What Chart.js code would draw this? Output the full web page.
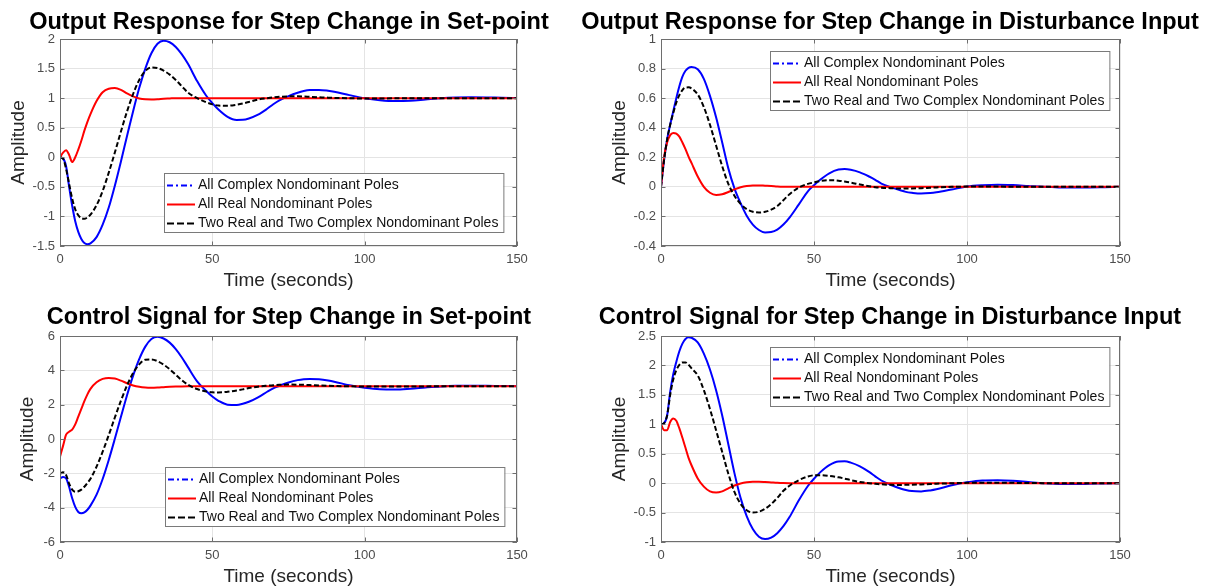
<!DOCTYPE html>
<html>
<head>
<meta charset="utf-8">
<script src="https://cdn.jsdelivr.net/npm/chart.js@4.4.1/dist/chart.umd.min.js"></script>
<style>
  html, body { margin: 0; padding: 0; background: #fff; }
  body { width: 1209px; height: 588px; position: relative; overflow: hidden; }
  canvas { position: absolute; }
</style>
</head>
<body>
<canvas id="c1" width="578" height="294" style="left:0;top:0"></canvas>
<canvas id="c2" width="620" height="294" style="left:580px;top:0"></canvas>
<canvas id="c3" width="578" height="294" style="left:0;top:294px"></canvas>
<canvas id="c4" width="620" height="294" style="left:580px;top:294px"></canvas>
<script>
// time axis shared by every curve (seconds)
var timeSec = [0,1,2,3,4,5,6,7,8,9,10,
  12,14,16,18,20,22,24,26,28,30,32,34,36,38,40,42,
  45,48,50,52,55,58,60,62,65,68,70,72,75,78,80,82,85,88,90,
  95,100,105,110,115,120,125,130,135,140,145,150];

var seriesNames = ['All Complex Nondominant Poles', 'All Real Nondominant Poles', 'Two Real and Two Complex Nondominant Poles'];

// output response, set-point step
var spOutComplex = [0,-0.02,-0.15,-0.5,-0.82,-1.08,-1.26,-1.38,-1.45,-1.47,-1.456,
  -1.35,-1.14,-0.85,-0.48,-0.07,0.36,0.78,1.17,1.5,1.76,1.92,1.97,1.945,1.866,1.74,1.58,
  1.288,1.04,0.917,0.808,0.685,0.632,0.634,0.656,0.72,0.82,0.897,0.963,1.035,1.092,1.12,1.136,1.139,1.125,1.109,
  1.051,0.998,0.965,0.95,0.956,0.977,0.998,1.01,1.015,1.012,1.006,1.002];
var spOutReal = [0,0.08,0.12,0.04,-0.08,0,0.13,0.28,0.45,0.6,0.73,
  0.95,1.1,1.16,1.17,1.14,1.08,1.03,0.995,0.98,0.978,0.982,0.99,0.995,1,1,1,
  1,1,1,1,1,1,1,1,1,1,1,1,1,1,1,1,1,1,1,
  1,1,1,1,1,1,1,1,1,1,1,1];
var spOutMixed = [0,-0.02,-0.2,-0.45,-0.7,-0.88,-0.98,-1.03,-1.04,-1.016,-0.97,
  -0.81,-0.57,-0.26,0.08,0.436,0.775,1.07,1.307,1.46,1.52,1.508,1.466,1.398,1.307,1.2,1.094,
  1.0,0.93,0.895,0.875,0.872,0.89,0.91,0.936,0.977,0.999,1.012,1.022,1.03,1.03,1.027,1.022,1.015,1.008,1.004,
  0.998,0.995,0.995,0.997,1,1,1,1,1,1,1,1];

// output response, disturbance step
var dOutComplex = [0,0.18,0.32,0.42,0.51,0.6,0.68,0.745,0.785,0.805,0.81,
  0.795,0.73,0.615,0.47,0.3,0.125,-0.01,-0.11,-0.195,-0.255,-0.292,-0.309,-0.306,-0.289,-0.255,-0.208,
  -0.12,-0.03,0.011,0.048,0.092,0.117,0.12,0.115,0.098,0.07,0.048,0.022,-0.002,-0.022,-0.034,-0.04,-0.045,-0.042,-0.037,
  -0.018,0.002,0.011,0.015,0.012,0.006,0,-0.004,-0.005,-0.004,-0.002,0];
var dOutReal = [0,0.2,0.3,0.35,0.365,0.36,0.34,0.3,0.255,0.205,0.16,
  0.07,0,-0.04,-0.055,-0.05,-0.035,-0.017,-0.003,0.006,0.01,0.01,0.008,0.006,0.003,0.001,0,
  0,0,0,0,0,0,0,0,0,0,0,0,0,0,0,0,0,0,0,
  0,0,0,0,0,0,0,0,0,0,0,0];
var dOutMixed = [0,0.18,0.32,0.42,0.5,0.57,0.62,0.655,0.672,0.673,0.665,
  0.625,0.54,0.42,0.28,0.14,0.02,-0.06,-0.115,-0.15,-0.168,-0.173,-0.169,-0.154,-0.13,-0.09,-0.05,
  -0.005,0.02,0.03,0.039,0.045,0.042,0.036,0.029,0.016,0.004,-0.002,-0.006,-0.009,-0.011,-0.011,-0.0105,-0.009,-0.006,-0.004,
  0,0.002,0.003,0.002,0.001,0,0,0,0,0,0,0];

// control signal, set-point step
var spCtrlComplex = [-2.3,-2.22,-2.3,-2.8,-3.45,-3.95,-4.25,-4.33,-4.28,-4.12,-3.88,
  -3.24,-2.33,-1.22,0.01,1.29,2.55,3.69,4.65,5.38,5.82,5.95,5.854,5.614,5.236,4.75,4.186,
  3.36,2.8,2.476,2.226,2.001,1.984,2.053,2.168,2.431,2.752,2.954,3.099,3.29,3.429,3.484,3.5,3.476,3.406,3.34,
  3.13,2.986,2.896,2.883,2.93,3.0,3.06,3.095,3.105,3.1,3.088,3.078];
var spCtrlReal = [-1.03,-0.4,0.25,0.42,0.55,0.85,1.3,1.75,2.2,2.6,2.92,
  3.3,3.5,3.56,3.52,3.4,3.25,3.12,3.04,3.0,2.99,3.0,3.02,3.04,3.055,3.065,3.07,
  3.07,3.07,3.07,3.07,3.07,3.07,3.07,3.07,3.07,3.07,3.07,3.07,3.07,3.07,3.07,3.07,3.07,3.07,3.07,
  3.07,3.07,3.07,3.07,3.07,3.07,3.07,3.07,3.07,3.07,3.07,3.07];
var spCtrlMixed = [-2.05,-1.93,-2.1,-2.6,-2.95,-3.07,-3.04,-2.95,-2.78,-2.56,-2.32,
  -1.61,-0.74,0.23,1.25,2.23,3.12,3.84,4.35,4.62,4.637,4.534,4.337,4.063,3.74,3.42,3.16,
  2.91,2.77,2.72,2.71,2.75,2.825,2.89,2.965,3.05,3.105,3.135,3.155,3.17,3.165,3.155,3.14,3.12,3.1,3.09,
  3.07,3.06,3.055,3.055,3.06,3.065,3.07,3.072,3.073,3.072,3.071,3.07];

// control signal, disturbance step
var dCtrlComplex = [1,1.02,1.15,1.55,1.85,2.06,2.24,2.37,2.45,2.48,2.47,
  2.39,2.2,1.93,1.58,1.15,0.66,0.17,-0.25,-0.56,-0.78,-0.91,-0.95,-0.925,-0.85,-0.732,-0.577,
  -0.296,-0.049,0.075,0.183,0.306,0.368,0.37,0.348,0.285,0.191,0.116,0.045,-0.027,-0.087,-0.116,-0.134,-0.14,-0.124,-0.105,
  -0.037,0.014,0.045,0.049,0.04,0.018,-0.003,-0.013,-0.016,-0.011,-0.005,0];
var dCtrlReal = [1,0.9,0.9,1.04,1.1,1.06,0.93,0.77,0.6,0.43,0.3,
  0.08,-0.06,-0.14,-0.16,-0.14,-0.09,-0.04,-0.005,0.015,0.022,0.022,0.018,0.012,0.006,0.002,0,
  0,0,0,0,0,0,0,0,0,0,0,0,0,0,0,0,0,0,0,
  0,0,0,0,0,0,0,0,0,0,0,0];
var dCtrlMixed = [1,1.02,1.15,1.5,1.76,1.92,2.01,2.05,2.05,2.01,1.95,
  1.83,1.58,1.26,0.9,0.53,0.16,-0.15,-0.35,-0.46,-0.5,-0.486,-0.437,-0.357,-0.251,-0.13,-0.044,
  0.05,0.114,0.134,0.136,0.123,0.099,0.077,0.052,0.02,0,-0.011,-0.02,-0.028,-0.03,-0.029,-0.026,-0.021,-0.015,-0.01,
  -0.002,0.005,0.008,0.008,0.005,0.002,0,-0.002,-0.002,-0.001,0,0];

// y axis [min, max, step] per panel
var spOutRange = [-1.5, 2, 0.5];
var dOutRange = [-0.4, 1, 0.2];
var spCtrlRange = [-6, 6, 2];
var dCtrlRange = [-1, 2.5, 0.5];
var xRange = [0, 150, 50];

Chart.defaults.font.family = '"Liberation Sans", Arial, Helvetica, sans-serif';
var gridColor = '#e4e4e4';
var edgeColor = '#6e6e6e';

function pts(vals) {
  return timeSec.map(function(t, i) { return {x: t, y: vals[i]}; });
}

// matlab style box round the axes with small inward ticks
var boxTicks = {
  id: 'boxTicks',
  afterDatasetsDraw: function(chart) {
    var a = chart.chartArea, ctx = chart.ctx, len = 4.5;
    var sx = chart.scales.x, sy = chart.scales.y;
    ctx.save();
    ctx.strokeStyle = edgeColor;
    ctx.lineWidth = 1;
    ctx.strokeRect(a.left + 0.5, a.top + 0.5, a.right - a.left - 1, a.bottom - a.top - 1);
    ctx.beginPath();
    sx.ticks.forEach(function(t) {
      var px = Math.round(sx.getPixelForValue(t.value)) + 0.5;
      ctx.moveTo(px, a.bottom); ctx.lineTo(px, a.bottom - len);
      ctx.moveTo(px, a.top); ctx.lineTo(px, a.top + len);
    });
    sy.ticks.forEach(function(t) {
      var py = Math.round(sy.getPixelForValue(t.value)) + 0.5;
      ctx.moveTo(a.left, py); ctx.lineTo(a.left + len, py);
      ctx.moveTo(a.right, py); ctx.lineTo(a.right - len, py);
    });
    ctx.stroke();
    ctx.restore();
  }
};

// legend box drawn inside the plot area
var insetLegend = {
  id: 'insetLegend',
  afterDraw: function(chart, args, opts) {
    var a = chart.chartArea, ctx = chart.ctx, sets = chart.data.datasets;
    ctx.save();
    ctx.font = '14px "Liberation Sans", Arial, sans-serif';
    var tw = 0;
    sets.forEach(function(d) { tw = Math.max(tw, ctx.measureText(d.label).width); });
    var w = 34 + tw + 5, h = 59;
    var x = Math.round(a.right - opts.right - w);
    var y = opts.top != null ? a.top + opts.top : a.bottom - opts.bottom - h;
    ctx.fillStyle = '#fff';
    ctx.fillRect(x, y, w, h);
    ctx.strokeStyle = '#7a7a7a';
    ctx.lineWidth = 1;
    ctx.strokeRect(x + 0.5, y + 0.5, w, h);
    sets.forEach(function(d, i) {
      var cy = y + 12.5 + i * 19;
      ctx.strokeStyle = d.borderColor;
      ctx.lineWidth = 2;
      ctx.setLineDash(d.legendDash || []);
      ctx.beginPath();
      ctx.moveTo(x + 3, cy);
      ctx.lineTo(x + 31, cy);
      ctx.stroke();
      ctx.setLineDash([]);
      ctx.fillStyle = '#111';
      ctx.textBaseline = 'middle';
      ctx.fillText(d.label, x + 34, cy);
    });
    ctx.restore();
  }
};

function panel(id, cfg) {
  var common = {borderWidth: 2, pointRadius: 0, fill: false, cubicInterpolationMode: 'monotone'};
  return new Chart(document.getElementById(id), {
    type: 'line',
    data: {
      datasets: [
        Object.assign({label: seriesNames[0], data: pts(cfg.lines[0]), borderColor: '#0000ff', legendDash: [6, 3, 2, 3], order: 3}, common),
        Object.assign({label: seriesNames[1], data: pts(cfg.lines[1]), borderColor: '#ff0000', order: 2}, common),
        Object.assign({label: seriesNames[2], data: pts(cfg.lines[2]), borderColor: '#000000', borderDash: [5, 2.5], legendDash: [7, 3], order: 1}, common)
      ]
    },
    options: {
      responsive: false,
      animation: false,
      layout: {padding: 0},
      plugins: {
        legend: {display: false},
        tooltip: {enabled: false},
        title: {
          display: true,
          text: cfg.title,
          color: '#000',
          font: {size: 23.5, weight: 'bold'},
          padding: cfg.titlePad
        },
        insetLegend: cfg.legend
      },
      scales: {
        x: {
          type: 'linear',
          min: xRange[0], max: xRange[1],
          afterFit: function(s) { s.height = cfg.xh; },
          ticks: {stepSize: xRange[2], padding: 5.2, color: '#4d4d4d', font: {size: 13}, maxRotation: 0},
          grid: {color: gridColor, drawTicks: false},
          border: {display: false},
          title: {display: true, text: 'Time (seconds)', color: '#262626', font: {size: 19}, padding: {top: 0, bottom: cfg.xTitlePad}}
        },
        y: {
          min: cfg.range[0], max: cfg.range[1],
          afterFit: function(s) { s.width = cfg.yw; },
          ticks: {
            stepSize: cfg.range[2], padding: 5, color: '#4d4d4d', font: {size: 13},
            callback: function(v) { return String(Math.round(v * 100) / 100); }
          },
          grid: {color: gridColor, drawTicks: false},
          border: {display: false},
          title: {display: true, text: 'Amplitude', color: '#262626', font: {size: 19}, padding: {top: cfg.yTitlePad, bottom: 0}}
        },
        // empty right-hand axis that only holds the margin beside the plot
        gap: {
          axis: 'y', position: 'right', display: true,
          afterFit: function(s) { s.width = cfg.rw; },
          ticks: {display: false}, grid: {display: false}, border: {display: false}
        }
      }
    },
    plugins: [boxTicks, insetLegend]
  });
}

panel('c1', {
  title: 'Output Response for Step Change in Set-point',
  lines: [spOutComplex, spOutReal, spOutMixed], range: spOutRange,
  yw: 60, rw: 61, titlePad: {top: 8, bottom: 2.8},
  xh: 48, xTitlePad: 1.6, yTitlePad: 7.6,
  legend: {right: 14, bottom: 14}
});
panel('c2', {
  title: 'Output Response for Step Change in Disturbance Input',
  lines: [dOutComplex, dOutReal, dOutMixed], range: dOutRange,
  yw: 81, rw: 80, titlePad: {top: 8, bottom: 2.8},
  xh: 48, xTitlePad: 1.6, yTitlePad: 28.6,
  legend: {right: 11, top: 12}
});
panel('c3', {
  title: 'Control Signal for Step Change in Set-point',
  lines: [spCtrlComplex, spCtrlReal, spCtrlMixed], range: spCtrlRange,
  yw: 60, rw: 61, titlePad: {top: 9.4, bottom: 4.4},
  xh: 46, xTitlePad: 0, yTitlePad: 16,
  legend: {right: 13, bottom: 16}
});
panel('c4', {
  title: 'Control Signal for Step Change in Disturbance Input',
  lines: [dCtrlComplex, dCtrlReal, dCtrlMixed], range: dCtrlRange,
  yw: 81, rw: 80, titlePad: {top: 9.4, bottom: 4.4},
  xh: 46, xTitlePad: 0, yTitlePad: 28.6,
  legend: {right: 11, top: 11}
});
</script>
</body>
</html>
